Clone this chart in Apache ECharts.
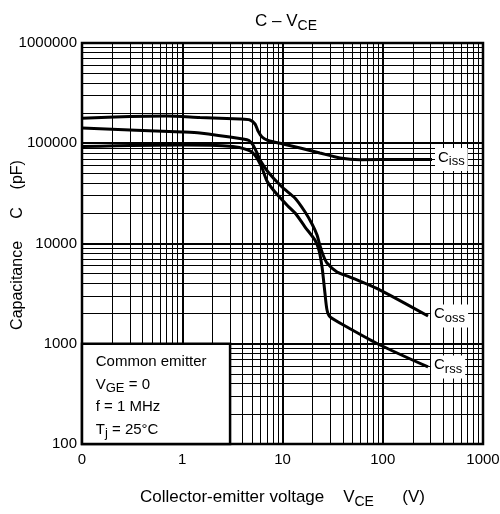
<!DOCTYPE html>
<html><head><meta charset="utf-8">
<script src="https://cdn.jsdelivr.net/npm/echarts@6/dist/echarts.min.js"></script>
<style>html,body{margin:0;padding:0;background:#fff}#c{width:500px;height:514px}</style>
</head><body><div id="c"></div>
<script>
// ---- data ----
const xTickValues = [0.1, 1, 10, 100, 1000];
const xTickLabels = ['0', '1', '10', '100', '1000'];
const yTickValues = [100, 1000, 10000, 100000, 1000000];
const yTickLabels = ['100', '1000', '10000', '100000', '1000000'];
const minorSteps = [2, 3, 4, 5, 6, 7, 8, 9];
const xDecades = [0.1, 1, 10, 100];
const yDecades = [100, 1000, 10000, 100000];

const ciss = [[0.1,178000],[0.3,185000],[0.7,187000],[1.5,181000],[3.77,174600],[4.74,170600],[5.32,155600],[5.7,132500],[6.25,115400],[7.18,106500],[10.1,98400],[15,89700],[23.6,80000],[37.5,71300],[59,68500],[150,69000],[310,69000]];
const coss = [[0.1,141900],[1,129400],[1.5,126500],[4.04,110200],[4.63,106500],[5.08,96100],[5.57,80000],[5.97,68100],[7.18,51700],[9.89,36600],[13.3,28400],[16.8,20600],[19.7,15650],[22.1,12150],[23.7,9440],[25.4,7680],[27.8,6380],[35,5200],[47.1,4630],[94,3430],[283,1890]];
const crss = [[0.1,92900],[1,96100],[3.21,92900],[4.53,85700],[5.08,80000],[5.7,68100],[6.25,56600],[7,42000],[8.42,32600],[11.3,23700],[13.6,19700],[16.8,14600],[21.1,10800],[23.1,8610],[24.8,5830],[26.5,3210],[27.8,2170],[29.8,1850],[44,1470],[94,972],[283,587]];
const curveNames = ['iss', 'oss', 'rss'];
const boxX = [0.1, 3];
const boxY = [100, 1000];
const boxLines = ['Common emitter', 'V|GE| = 0', 'f = 1 MHz', 'T|j| = 25°C'];

// ---- chart ----
const FF = 'Liberation Sans, Arial, sans-serif';
const NB = '\u00a0';
const sp = n => NB.repeat(n);
const xMinor = [], yMinor = [];
xDecades.forEach(d => minorSteps.forEach(m => xMinor.push(d * m)));
yDecades.forEach(d => minorSteps.forEach(m => yMinor.push(d * m)));

function tickLabel(vals, labels) {
  return v => {
    let best = 0, bd = Infinity;
    vals.forEach((t, i) => { const dd = Math.abs(Math.log10(t) - Math.log10(v)); if (dd < bd) { bd = dd; best = i; } });
    return labels[best];
  };
}

const subRich = {
  m: {fontSize: 15, fontFamily: FF, color: '#000', lineHeight: 22.5, verticalAlign: 'top'},
  s: {fontSize: 13, fontFamily: FF, color: '#000', lineHeight: 13, verticalAlign: 'top', padding: [5, 0, 0, 0]}
};

function boxFormatter() {
  return boxLines.map(line => {
    const parts = line.split('|');
    if (parts.length === 1) return '{m|' + line + '}';
    return '{m|' + parts[0] + '}{s|' + parts[1] + '}{m|' + parts[2] + '}';
  }).join('\n');
}

function curveSeries(data, idx) {
  return {
    type: 'line', data: data, smooth: 0.25, showSymbol: false, z: 3,
    lineStyle: {color: '#000', width: 3},
    endLabel: {
      show: true, distance: 3, backgroundColor: '#fff', padding: [2, 3, 2, 3],
      formatter: '{c|C}{s|' + curveNames[idx] + '}',
      rich: {
        c: {fontSize: 15, fontFamily: FF, color: '#000', lineHeight: 19, verticalAlign: 'top'},
        s: {fontSize: 13, fontFamily: FF, color: '#000', lineHeight: 13, verticalAlign: 'top', padding: [5, 0, 0, 0]}
      }
    }
  };
}

const chart = echarts.init(document.getElementById('c'), null, {renderer: 'canvas'});
chart.setOption({
  animation: false,
  backgroundColor: '#fff',
  title: {
    text: '{a|C – V}{b|CE}', left: 250, top: 8,
    textStyle: {fontWeight: 'normal', rich: {
      a: {fontSize: 17, fontFamily: FF, fontWeight: 'normal', color: '#000', lineHeight: 21, verticalAlign: 'top'},
      b: {fontSize: 14, fontFamily: FF, fontWeight: 'normal', color: '#000', lineHeight: 14, verticalAlign: 'top', padding: [6, 0, 0, 0]}
    }}
  },
  graphic: [{
    type: 'text', x: 18, y: 245, rotation: Math.PI / 2, silent: true,
    style: {text: 'Capacitance' + sp(5) + 'C' + sp(4) + '(pF)', font: '16px ' + FF, fill: '#000', align: 'center', verticalAlign: 'middle'}
  }],
  grid: {left: 82, right: 17, top: 43, bottom: 70, show: true, borderColor: '#000', borderWidth: 2.5,
         containLabel: false, outerBoundsMode: 'none'},
  xAxis: {
    type: 'log', logBase: 10, min: 0.1, max: 1000,
    axisLine: {show: false}, axisTick: {show: false},
    splitLine: {show: true, lineStyle: {color: '#000', width: 2}},
    axisLabel: {formatter: tickLabel(xTickValues, xTickLabels), color: '#000', fontSize: 15, fontFamily: FF, margin: 8},
    name: '{n|Collector-emitter voltage' + sp(4) + 'V}{b|CE}{n|' + sp(6) + '(V)}',
    nameLocation: 'middle', nameGap: 45,
    nameTextStyle: {rich: {
      n: {fontSize: 17, fontFamily: FF, color: '#000', lineHeight: 21, verticalAlign: 'top'},
      b: {fontSize: 14, fontFamily: FF, color: '#000', lineHeight: 14, verticalAlign: 'top', padding: [6, 0, 0, 0]}
    }}
  },
  yAxis: {
    type: 'log', logBase: 10, min: 100, max: 1000000,
    axisLine: {show: false}, axisTick: {show: false},
    splitLine: {show: true, lineStyle: {color: '#000', width: 2}},
    axisLabel: {formatter: tickLabel(yTickValues, yTickLabels), color: '#000', fontSize: 15, fontFamily: FF, margin: 5}
  },
  series: [
    {
      type: 'line', data: [], silent: true,
      markLine: {
        z: 1, silent: true, symbol: ['none', 'none'], animation: false,
        label: {show: false},
        lineStyle: {color: '#000', width: 1, type: 'solid'},
        emphasis: {disabled: true},
        data: xMinor.map(v => ({xAxis: v})).concat(yMinor.map(v => ({yAxis: v})))
      }
    },
    {
      type: 'line', data: [], silent: true,
      markArea: {
        z: 4, silent: true, animation: false,
        itemStyle: {color: '#fff', borderColor: '#000', borderWidth: 2.5},
        label: {show: true, position: 'insideTopLeft', distance: 6, padding: [6, 0, 0, 9], formatter: boxFormatter, rich: subRich},
        emphasis: {disabled: true},
        data: [[{coord: [boxX[0], boxY[0]]}, {coord: [boxX[1], boxY[1]]}]]
      }
    },
    curveSeries(ciss, 0),
    curveSeries(coss, 1),
    curveSeries(crss, 2)
  ]
});
</script>
</body></html>
